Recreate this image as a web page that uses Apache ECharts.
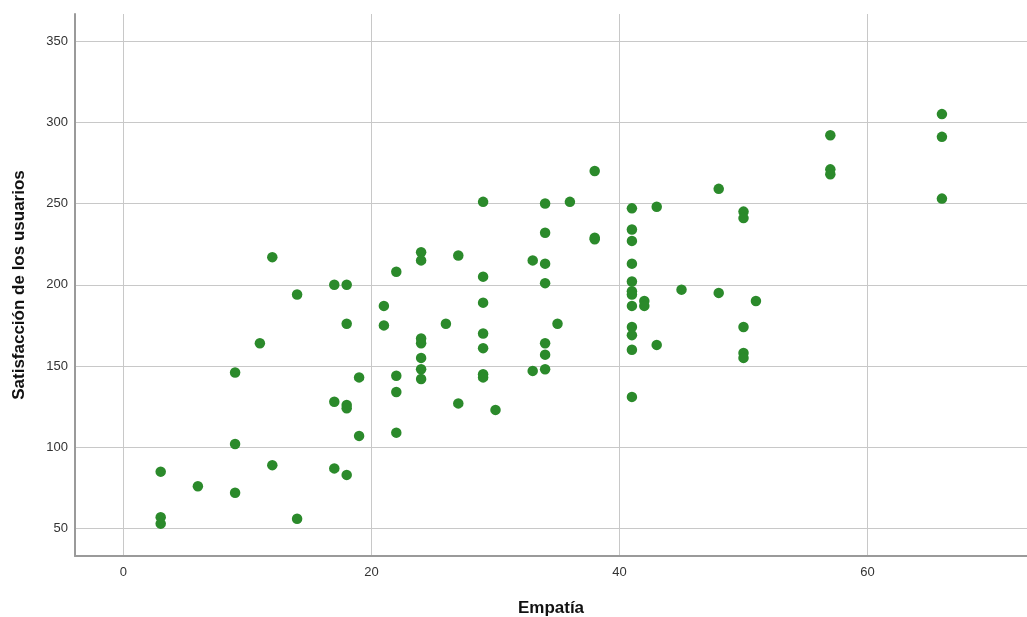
<!DOCTYPE html>
<html>
<head>
<meta charset="utf-8">
<script src="https://cdn.jsdelivr.net/npm/echarts@6/dist/echarts.min.js"></script>
<style>
html,body{margin:0;padding:0;background:#fff;}
#chart{width:1027px;height:617px;}
</style>
</head>
<body>
<div id="chart"></div>
<script>
// Empatía (x) and Satisfacción de los usuarios (y), paired by index
const empatia = [
  3,3,3, 6, 9,9,9, 11, 12,12, 14,14, 17,17,17, 18,18,18,18,18, 19,19, 21,21,
  22,22,22,22, 24,24,24,24,24,24,24, 26, 27,27, 29,29,29,29,29,29,29, 30,
  33,33, 34,34,34,34,34,34,34, 35, 36, 38,38,38,
  41,41,41,41,41,41,41,41,41,41,41,41, 42,42, 43,43, 45, 48,48,
  50,50,50,50,50, 51, 57,57,57, 66,66,66
];
const satisfaccion = [
  85,57,53, 76, 146,102,72, 164, 217,89, 194,56, 200,128,87, 200,176,126,124,83, 143,107, 187,175,
  208,144,134,109, 220,215,167,164,155,148,142, 176, 218,127, 251,205,189,170,161,145,143, 123,
  215,147, 250,232,213,201,164,157,148, 176, 251, 270,229,228,
  247,234,227,213,202,196,194,187,174,169,160,131, 190,187, 248,163, 197, 259,195,
  245,241,174,158,155, 190, 292,271,268, 305,291,253
];
const xTitle = 'Empatía';
const yTitle = 'Satisfacción de los usuarios';

const points = empatia.map((x, i) => [x, satisfaccion[i]]);

const chart = echarts.init(document.getElementById('chart'), null, {renderer: 'canvas'});
const font = '"Liberation Sans", Arial, sans-serif';
chart.setOption({
  animation: false,
  backgroundColor: '#ffffff',
  grid: {left: 75, right: 0, top: 14, bottom: 61, containLabel: false, outerBoundsMode: 'none'},
  xAxis: {
    type: 'value',
    min: -3.91, max: 72.86,
    splitNumber: 4,
    name: xTitle,
    nameLocation: 'middle',
    nameGap: 44,
    nameTextStyle: {fontFamily: font, fontSize: 17, fontWeight: 'bold', color: '#111'},
    axisLine: {show: true, onZero: false, lineStyle: {color: '#9a9a9a', width: 2}},
    axisTick: {show: false},
    axisLabel: {fontFamily: font, fontSize: 13, color: '#333', margin: 10, showMinLabel: false, showMaxLabel: false},
    splitLine: {show: true, showMinLine: false, showMaxLine: false, lineStyle: {color: '#c8c8c8', width: 1}}
  },
  yAxis: {
    type: 'value',
    min: 33.1, max: 366.6,
    splitNumber: 7,
    name: yTitle,
    nameLocation: 'middle',
    nameGap: 47,
    nameTextStyle: {fontFamily: font, fontSize: 17, fontWeight: 'bold', color: '#111'},
    axisLine: {show: true, onZero: false, lineStyle: {color: '#9a9a9a', width: 2}},
    axisTick: {show: false},
    axisLabel: {fontFamily: font, fontSize: 13, color: '#333', margin: 7, showMinLabel: false, showMaxLabel: false},
    splitLine: {show: true, showMinLine: false, showMaxLine: false, lineStyle: {color: '#c8c8c8', width: 1}}
  },
  series: [{
    type: 'scatter',
    data: points,
    symbol: 'circle',
    symbolSize: 10.5,
    itemStyle: {color: '#2b8a2b', opacity: 1},
    silent: true
  }]
});
</script>
</body>
</html>
